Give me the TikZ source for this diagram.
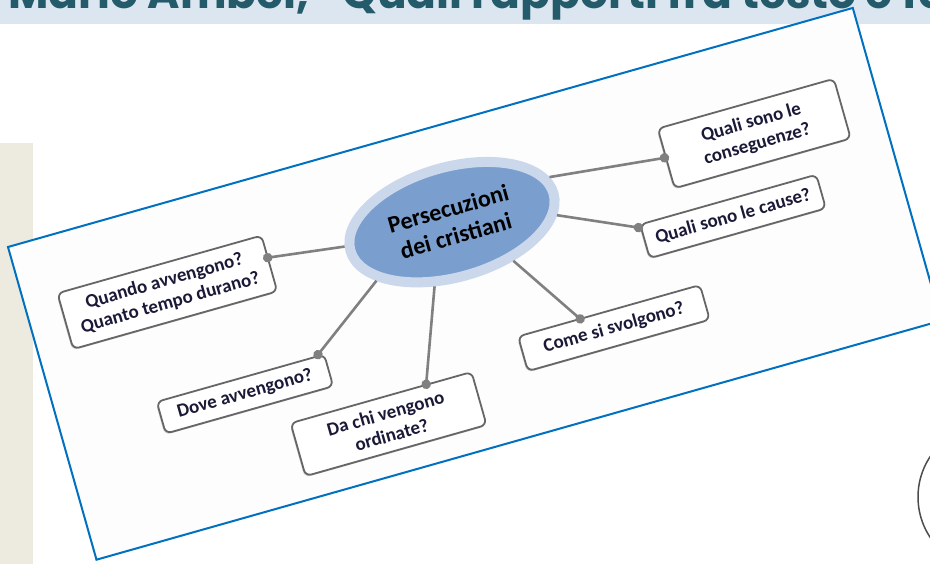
\documentclass[tikz,border=0pt]{standalone}
\usepackage{fontspec}
\setmainfont{Carlito}
\newfontfamily\titlefont{Poppins}
\usetikzlibrary{shadows,shapes.geometric}
\definecolor{bandc}{HTML}{DCE6F1}
\definecolor{titlec}{HTML}{235B6B}
\definecolor{beigec}{HTML}{EDEBE0}
\definecolor{frameblue}{HTML}{0070C0}
\definecolor{framefill}{HTML}{FDFDFD}
\definecolor{ellin}{HTML}{7A9ECE}
\definecolor{ellring}{HTML}{CBD8EB}
\definecolor{boxline}{HTML}{666666}
\definecolor{conngray}{HTML}{808080}
\definecolor{boxtext}{HTML}{1A1A38}
\tikzset{
  qbox/.style={draw=boxline, line width=1.8pt, rounded corners=6pt, fill=white,
    drop shadow={shadow xshift=-1pt, shadow yshift=-1.5pt, opacity=0.35},
    align=center, text=boxtext, inner sep=2pt,
    font=\fontsize{19}{22.5}\selectfont\bfseries},
  conn/.style={draw=conngray, line width=2.6pt},
  cdot/.style={fill=conngray},
}
\begin{document}
\begin{tikzpicture}[x=1pt,y=1pt]
\useasboundingbox (0,0) rectangle (930,564);
\clip (0,0) rectangle (930,564);
\fill[white] (0,0) rectangle (930,564);
\fill[bandc] (0,540) rectangle (930,564);
\node[anchor=base west, text=titlec, inner sep=0,
  font=\titlefont\bfseries\fontsize{44}{50}\selectfont] (title) at (8,555)
  {Mario Ambel, “Quali rapporti fra testo e fo};
\fill[beigec] (0,0) rectangle (33,421);
\draw[draw=black!70, line width=1.5pt] (991,67) circle (73);
\begin{scope}[shift={(8,317)}, rotate=15.8, transform shape]
  \draw[draw=frameblue, fill=framefill, line width=2pt] (0,0) rectangle (878,-325);
  \node[ellipse, draw=ellring, fill=ellin, line width=10pt, inner sep=0,
    minimum width=211pt, minimum height=110pt, align=center,
    font=\fontsize{24}{28}\selectfont\bfseries] (ell) at (434,-97)
    {Persecuzioni\\dei cristiani};
  \node[qbox, minimum width=212pt, minimum height=58pt] (b1) at (141,-87)
    {Quando avvengono?\\Quanto tempo durano?};
  \node[qbox, minimum width=183pt, minimum height=62pt] (b2) at (749,-94)
    {Quali sono le\\conseguenze?};
  \node[qbox, minimum width=183pt, minimum height=35pt] (b3) at (706,-168)
    {Quali sono le cause?};
  \node[qbox, minimum width=174pt, minimum height=33pt] (b4) at (188,-206)
    {Dove avvengono?};
  \node[qbox, minimum width=188pt, minimum height=55pt] (b5) at (318,-274)
    {Da chi vengono\\ordinate?};
  \node[qbox, minimum width=189pt, minimum height=36pt] (b6) at (561,-243)
    {Come si svolgono?};
  \coordinate (d1) at (247,-81);
  \coordinate (d2) at (656,-93);
  \coordinate (d3) at (612,-153);
  \coordinate (d4) at (269,-188);
  \coordinate (d5) at (365,-246);
  \coordinate (d6) at (531,-225);
  \draw[conn] (ell.177) -- (d1);
  \draw[conn] (ell.9) -- (d2);
  \draw[conn] (ell.-12) -- (d3);
  \draw[conn] (ell.202) -- (d4);
  \draw[conn] (ell.239) -- (d5);
  \draw[conn] (ell.-48) -- (d6);
  \foreach \d in {d1,d2,d3,d4,d5,d6} \fill[cdot] (\d) circle (4.8pt);
\end{scope}
\end{tikzpicture}
\end{document}
